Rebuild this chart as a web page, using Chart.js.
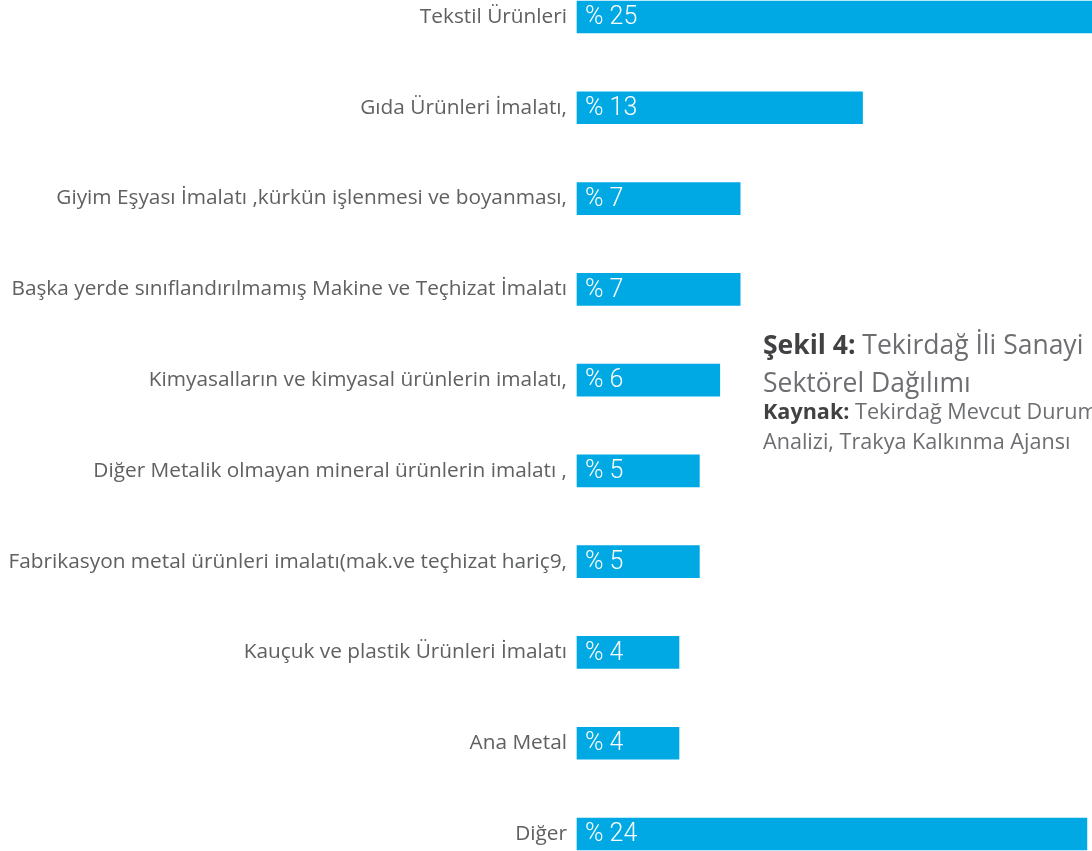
<!DOCTYPE html>
<html>
<head>
<meta charset="utf-8">
<script src="https://cdn.jsdelivr.net/npm/chart.js@4/dist/chart.umd.min.js"></script>
<style>
  html, body { margin: 0; padding: 0; background: #fff; overflow: hidden; }
  #wrap { position: relative; width: 1092px; height: 851px; overflow: hidden; }
  #caption {
    position: absolute; left: 763px; top: 325px; width: 500px;
    font-family: "Open Sans", "Noto Sans", sans-serif; color: #6d6e71;
    white-space: nowrap;
  }
  #caption .title { font-size: 26.5px; line-height: 38px; }
  #caption .src { font-size: 21.6px; line-height: 30px; margin-top: -5px; }
  #caption b { color: #414042; font-weight: 700; }
</style>
</head>
<body>
<div id="wrap">
  <canvas id="sector-chart" width="1092" height="851"></canvas>
  <div id="caption">
    <div class="title"><b>Şekil 4:</b> Tekirdağ İli Sanayi<br>Sektörel Dağılımı</div>
    <div class="src"><b>Kaynak:</b> Tekirdağ Mevcut Durum<br>Analizi, Trakya Kalkınma Ajansı</div>
  </div>
</div>
<script>
const categories = [
  'Tekstil Ürünleri',
  'Gıda Ürünleri İmalatı,',
  'Giyim Eşyası İmalatı ,kürkün işlenmesi ve boyanması,',
  'Başka yerde sınıflandırılmamış Makine ve Teçhizat İmalatı',
  'Kimyasalların ve kimyasal ürünlerin imalatı,',
  'Diğer Metalik olmayan mineral ürünlerin imalatı ,',
  'Fabrikasyon metal ürünleri imalatı(mak.ve teçhizat hariç9,',
  'Kauçuk ve plastik Ürünleri İmalatı',
  'Ana Metal',
  'Diğer'
];
const shares = [25, 13, 7, 7, 6, 5, 5, 4, 4, 24];

const barColor = '#00a9e3';

// white "% n" text at the left of each bar
const valueLabels = {
  id: 'valueLabels',
  afterDatasetsDraw(chart) {
    const ctx = chart.ctx;
    const meta = chart.getDatasetMeta(0);
    ctx.save();
    ctx.fillStyle = '#ffffff';
    ctx.font = '300 25px Roboto, "Liberation Sans", sans-serif';
    ctx.textBaseline = 'middle';
    ctx.textAlign = 'left';
    meta.data.forEach((bar, i) => {
      ctx.fillText('% ' + shares[i], bar.base + 8, bar.y + 1);
    });
    ctx.restore();
  }
};

new Chart(document.getElementById('sector-chart'), {
  type: 'bar',
  data: {
    labels: categories,
    datasets: [{
      data: shares,
      base: -1,
      backgroundColor: barColor,
      borderWidth: 0,
      barThickness: 32,
      clip: false
    }]
  },
  options: {
    indexAxis: 'y',
    responsive: false,
    animation: false,
    layout: { padding: { top: 17, bottom: 17, left: 0, right: 0 } },
    plugins: { legend: { display: false }, tooltip: { enabled: false } },
    scales: {
      x: {
        display: false,
        min: -1,
        max: 24.25
      },
      y: {
        offset: false,
        grid: { display: false, drawTicks: false },
        border: { display: false },
        afterFit(axis) {
          axis.width = 577;
          axis.paddingTop = 0;
          axis.paddingBottom = 0;
        },
        ticks: {
          padding: 10,
          color: '#5f6062',
          font: { family: '"Open Sans", "Noto Sans", sans-serif', size: 20.8 }
        }
      }
    }
  },
  plugins: [valueLabels]
});
</script>
</body>
</html>
